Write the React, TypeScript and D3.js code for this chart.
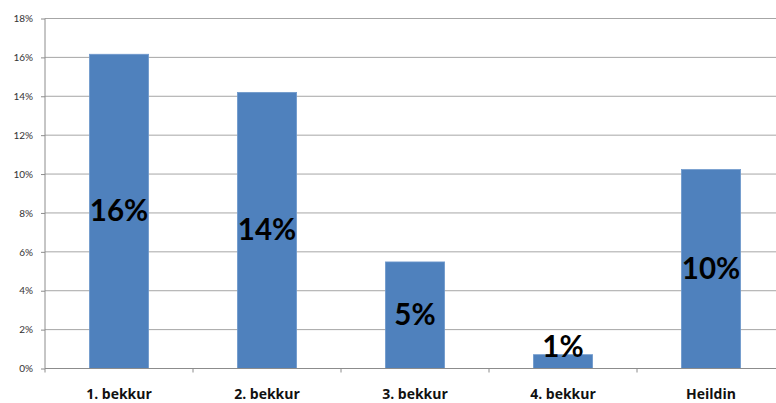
import { useEffect, useRef } from "react";
import { select, scaleLinear, scaleBand, axisLeft, axisBottom, range } from "d3";

const categories = ["1. bekkur", "2. bekkur", "3. bekkur", "4. bekkur", "Heildin"];
const values = [16.16, 14.2, 5.48, 0.71, 10.23];
const labels = ["16%", "14%", "5%", "1%", "10%"];
const yTicks = [0, 2, 4, 6, 8, 10, 12, 14, 16, 18];

const App = () => {
  const svgRef = useRef<SVGSVGElement>(null);
  const width = 776;
  const height = 403;
  const margin = { left: 45, top: 18.5, bottom: 34.5 };

  useEffect(() => {
    const svgEl = select(svgRef.current);
    svgEl.selectAll("*").remove();

    const step = 148;
    const x = scaleBand<string>()
      .domain(categories)
      .range([margin.left, margin.left + step * categories.length])
      .paddingInner(0.6)
      .paddingOuter(0.3);
    const y = scaleLinear().domain([0, 18]).range([height - margin.bottom, margin.top]);

    // grid lines
    svgEl.append("g")
      .selectAll("line")
      .data(yTicks.slice(1))
      .enter()
      .append("line")
      .attr("x1", margin.left)
      .attr("x2", width)
      .attr("y1", (d) => y(d))
      .attr("y2", (d) => y(d))
      .attr("stroke", "#a6a6a6")
      .attr("stroke-width", 1);

    // y axis
    const yAxis = axisLeft(y)
      .tickValues(yTicks)
      .tickSize(4)
      .tickPadding(8)
      .tickFormat((v) => `${v}%`);
    const yg = svgEl.append("g")
      .attr("transform", `translate(${margin.left},0)`)
      .call(yAxis);
    yg.selectAll("line").attr("stroke", "#8c8c8c");
    yg.select(".domain").attr("stroke", "#8c8c8c").attr("d", `M0,${y(18)}V${y(0)}`);
    yg.selectAll("text")
      .attr("font-family", "Lato, 'Open Sans', sans-serif")
      .attr("font-size", 10)
      .attr("fill", "#333");

    // bars
    svgEl.append("g")
      .selectAll("rect")
      .data(values)
      .enter()
      .append("rect")
      .attr("x", (_, i) => x(categories[i])!)
      .attr("width", x.bandwidth())
      .attr("y", (d) => y(d))
      .attr("height", (d) => y(0) - y(d))
      .attr("fill", "#4f81bd")
      .attr("stroke", "#6f99cc")
      .attr("stroke-width", 0.8);

    // x axis
    const boundaries = range(categories.length + 1).map((i) => margin.left + i * step);
    const xg = svgEl.append("g");
    xg.append("line")
      .attr("x1", margin.left)
      .attr("x2", width)
      .attr("y1", y(0))
      .attr("y2", y(0))
      .attr("stroke", "#8c8c8c");
    xg.selectAll(".tick")
      .data(boundaries)
      .enter()
      .append("line")
      .attr("x1", (d) => d)
      .attr("x2", (d) => d)
      .attr("y1", y(0))
      .attr("y2", y(0) + 4)
      .attr("stroke", "#8c8c8c");
    const xAxis = axisBottom(x).tickSize(0).tickPadding(0);
    const xl = svgEl.append("g")
      .attr("transform", `translate(0,${y(0)})`)
      .call(xAxis);
    xl.select(".domain").remove();
    xl.selectAll("text")
      .attr("dy", 0)
      .attr("y", 30)
      .attr("font-family", "'Open Sans', Lato, sans-serif")
      .attr("font-weight", "bold")
      .attr("font-size", 14)
      .attr("fill", "#111");

    // data labels
    svgEl.append("g")
      .selectAll("text")
      .data(values)
      .enter()
      .append("text")
      .attr("x", (_, i) => x(categories[i])! + x.bandwidth() / 2)
      .attr("y", (d) => Math.min((y(d) + y(0)) / 2, y(0) - 22) + 10)
      .attr("text-anchor", "middle")
      .attr("font-family", "Lato, 'Open Sans', sans-serif")
      .attr("font-weight", "bold")
      .attr("font-size", 29.5)
      .attr("fill", "#000")
      .text((_, i) => labels[i]);
  }, []);

  return (
    <svg
      ref={svgRef}
      width={width}
      height={height}
      style={{ position: "absolute", left: 0, top: 0, background: "#fff" }}
    />
  );
};

export default App;
